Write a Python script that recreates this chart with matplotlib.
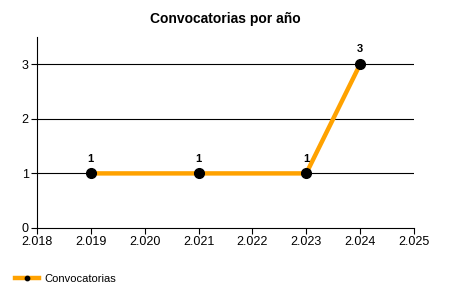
import matplotlib.pyplot as plt

# Datos del gráfico
anios = [2019, 2021, 2023, 2024]
convocatorias = [1, 1, 1, 3]
ticks_x = [2018, 2019, 2020, 2021, 2022, 2023, 2024, 2025]
etiquetas_x = ["2.018", "2.019", "2.020", "2.021", "2.022", "2.023", "2.024", "2.025"]

plt.rcParams['font.family'] = ['Liberation Sans', 'DejaVu Sans']

fig = plt.figure(figsize=(4.5, 3), dpi=100)
ax = fig.add_axes([0.082, 0.24, 0.838, 0.637])

for yv in [1, 2, 3]:
    ax.axhline(yv, color="black", linewidth=0.8, zorder=1)

ax.plot(anios, convocatorias, color="#FFA200", linewidth=3.2, marker="o",
        markersize=7, markerfacecolor="black", markeredgecolor="black",
        label="Convocatorias", zorder=3)

for x, y in zip(anios, convocatorias):
    ax.annotate(str(y), (x, y), xytext=(0, 7), textcoords="offset points",
                ha="center", va="bottom", fontsize=8, fontweight="bold")

ax.set_xlim(2018, 2025)
ax.set_ylim(0, 3.5)
ax.set_xticks(ticks_x)
ax.set_xticklabels(etiquetas_x)
ax.set_yticks([0, 1, 2, 3])
ax.tick_params(labelsize=9, length=4, width=0.8, direction="out", pad=2)
ax.spines["top"].set_visible(False)
ax.spines["right"].set_visible(False)

ax.set_title("Convocatorias por año", fontsize=10, fontweight="bold", pad=10)

fig.legend(loc="lower left", bbox_to_anchor=(0.01, 0.02), frameon=False,
           fontsize=8, handlelength=2.2, handletextpad=0.5, markerscale=0.45)

fig.savefig("out.png", dpi=100)
